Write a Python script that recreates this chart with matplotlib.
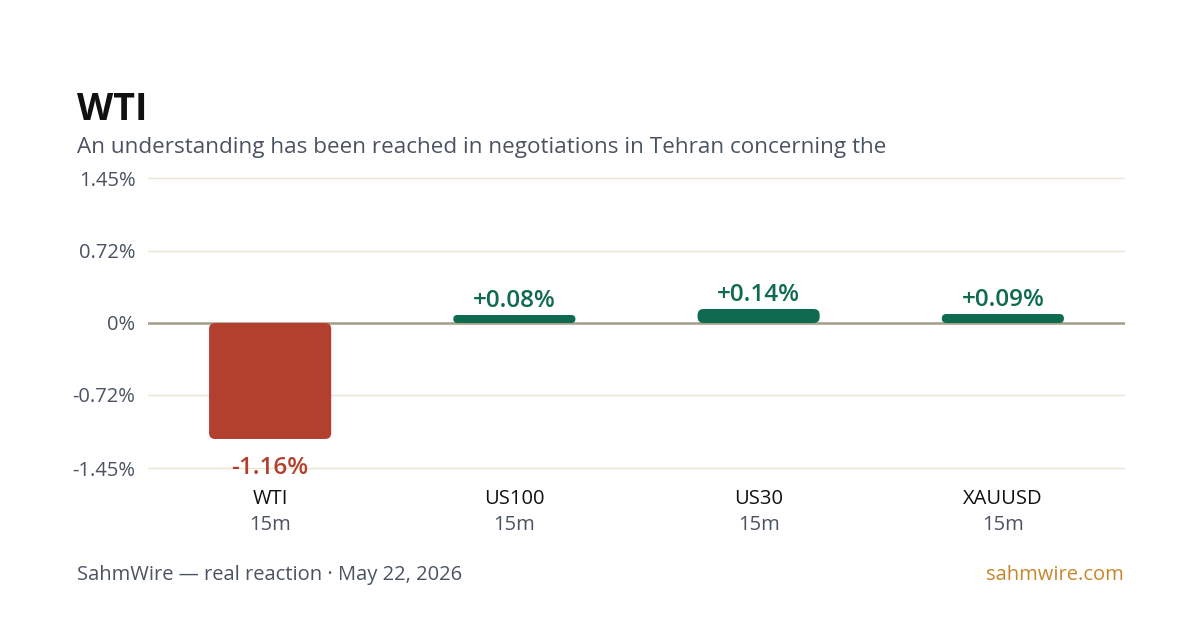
import matplotlib
matplotlib.use("Agg")
import matplotlib.pyplot as plt
from matplotlib.patches import FancyBboxPatch

plt.rcParams['font.family'] = ['Open Sans', 'DejaVu Sans']

# data
symbols = ["WTI", "US100", "US30", "XAUUSD"]
frames = ["15m", "15m", "15m", "15m"]
changes = [-1.16, 0.08, 0.14, 0.09]
tick_vals = [1.45, 0.72, 0, -0.72, -1.45]
tick_labels = ["1.45%", "0.72%", "0%", "-0.72%", "-1.45%"]

title = "WTI"
subtitle = "An understanding has been reached in negotiations in Tehran concerning the"
footer_left = "SahmWire \u2014 real reaction \u00b7 May 22, 2026"
footer_right = "sahmwire.com"

GREEN = "#0f6b50"
RED = "#b3402f"
GRAY = "#4a5363"

fig = plt.figure(figsize=(12, 6.3), dpi=100)
fig.patch.set_facecolor("white")
ax = fig.add_axes([148 / 1200, 1 - 473 / 630, 977 / 1200, 300 / 630])
ax.set_xlim(-0.5, 3.5)
ax.set_ylim(-1.5, 1.5)

for s in ax.spines.values():
    s.set_visible(False)
ax.set_yticks(tick_vals)
ax.set_yticklabels(tick_labels, fontsize=14.5, color=GRAY)
ax.tick_params(axis="y", length=0, pad=9)
ax.set_xticks([])
ax.grid(axis="y", color="#ece5d6", linewidth=1)
ax.set_axisbelow(True)
ax.axhline(0, color="#a39e8c", linewidth=1.8, zorder=2)

# pixel scales for rounded corners
px_x = 4 / 977   # x units per pixel
px_y = 3.0 / 300  # y units per pixel

bars = ax.bar(range(len(symbols)), changes, width=0.5, color="none")
for b, v in zip(bars, changes):
    col = GREEN if v >= 0 else RED
    x0, y0 = b.get_x(), b.get_y()
    w, h = b.get_width(), b.get_height()
    if h < 0:
        y0, h = y0 + h, -h
    r_px = min(6, (h / px_y) / 2)
    patch = FancyBboxPatch((x0, y0), w, h,
                           boxstyle="round,pad=0,rounding_size=%f" % (r_px * px_x),
                           mutation_aspect=px_y / px_x,
                           facecolor=col, edgecolor="none", zorder=3)
    ax.add_patch(patch)
    b.remove()
    label = ("+%.2f%%" % v) if v >= 0 else ("%.2f%%" % v)
    if v >= 0:
        ax.annotate(label, (b.get_x() + w / 2, v), xytext=(0, 1.5),
                    textcoords="offset points", ha="center", va="bottom",
                    fontsize=17.5, fontweight="semibold", color=col, zorder=4)
    else:
        ax.annotate(label, (b.get_x() + w / 2, v), xytext=(0, -12),
                    textcoords="offset points", ha="center", va="top",
                    fontsize=17.5, fontweight="semibold", color=col, zorder=4)

for i, (sym, fr) in enumerate(zip(symbols, frames)):
    ax.text(i, -0.085, sym, transform=ax.get_xaxis_transform(), ha="center",
            va="center", fontsize=14.5, color="#111111")
    ax.text(i, -0.172, fr, transform=ax.get_xaxis_transform(), ha="center",
            va="center", fontsize=14.5, color=GRAY)

fig.text(77 / 1200, 1 - 120 / 630, title, fontsize=27, fontweight="bold",
         color="#111111", ha="left", va="baseline")
fig.text(77 / 1200, 1 - 153 / 630, subtitle, fontsize=16.2, color=GRAY,
         ha="left", va="baseline")
fig.text(77 / 1200, 1 - 580 / 630, footer_left, fontsize=14.5, color=GRAY,
         ha="left", va="baseline")
fig.text(1124 / 1200, 1 - 580 / 630, footer_right, fontsize=14.5, color="#c8862c",
         ha="right", va="baseline")

fig.savefig("out.png", dpi=100, facecolor="white")
